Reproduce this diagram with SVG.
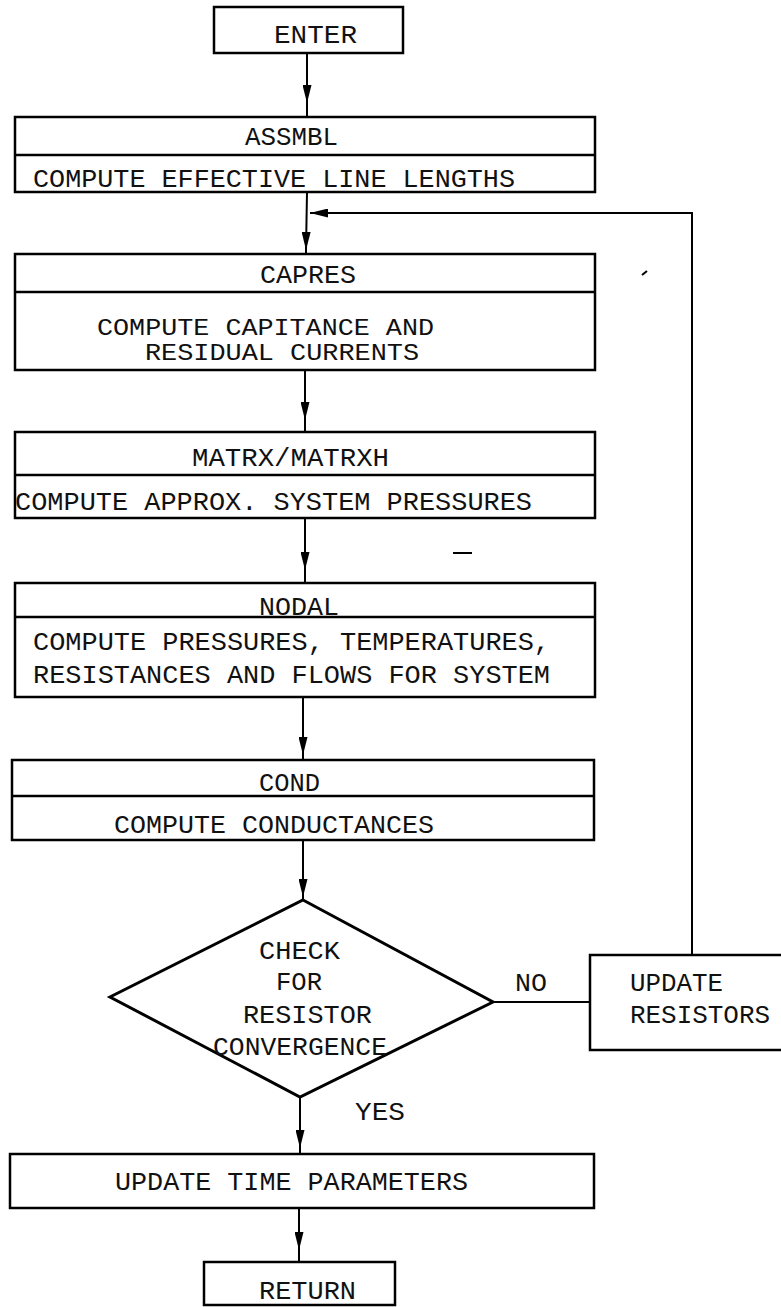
<svg xmlns="http://www.w3.org/2000/svg" width="781" height="1307" viewBox="0 0 781 1307">
<style>
.box{fill:none;stroke:#000;stroke-width:2.5}
.div{stroke:#000;stroke-width:2.5}
.t{font-family:"Liberation Mono","Courier New",monospace;font-size:25px;fill:#111}
.s{font-size:23px}
.c{fill:none;stroke:#000;stroke-width:2}
</style>
<defs>
<marker id="ah" markerUnits="userSpaceOnUse" markerWidth="18" markerHeight="9" refX="18" refY="4.5" orient="auto">
<path d="M0,0 L18,4.5 L0,9 z" fill="#000"/>
</marker>
</defs>
<rect width="781" height="1307" fill="#fff"/>
<g id="connectors">
<polyline class="c" points="307,53 307,103 307,117" marker-mid="url(#ah)"/>
<polyline class="c" points="307,192 306,250 306,254" marker-mid="url(#ah)"/>
<polyline class="c" points="692,955 692,213 310,213" marker-end="url(#ah)"/>
<polyline class="c" points="305,370 305,420 305,432" marker-mid="url(#ah)"/>
<polyline class="c" points="305,518 305,570 305,583" marker-mid="url(#ah)"/>
<polyline class="c" points="303,697 303,755 303,760" marker-mid="url(#ah)"/>
<polyline class="c" points="303,840 303,897 303,900" marker-mid="url(#ah)"/>
<polyline class="c" points="300,1097 300,1148 300,1154" marker-mid="url(#ah)"/>
<polyline class="c" points="299,1208 299,1250 299,1262" marker-mid="url(#ah)"/>
<line class="c" x1="493" y1="1002" x2="590" y2="1002"/>
<line x1="453" y1="553" x2="472" y2="553" stroke="#000" stroke-width="2"/>
<path d="M642,275 L647,271" stroke="#000" stroke-width="2"/>
</g>
<g id="enter">
<rect class="box" x="214" y="7" width="189" height="46"/>
<text class="t" x="274" y="43" textLength="83" lengthAdjust="spacingAndGlyphs">ENTER</text>
</g>
<g id="assmbl">
<rect class="box" x="15" y="117" width="580" height="75"/>
<line class="div" x1="15" y1="155" x2="595" y2="155"/>
<text class="t" x="245" y="145" textLength="93" lengthAdjust="spacingAndGlyphs">ASSMBL</text>
<text class="t" x="33" y="187" textLength="482" lengthAdjust="spacingAndGlyphs">COMPUTE EFFECTIVE LINE LENGTHS</text>
</g>
<g id="capres">
<rect class="box" x="15" y="254" width="580" height="116"/>
<line class="div" x1="15" y1="292" x2="595" y2="292"/>
<text class="t" x="260" y="283" textLength="96" lengthAdjust="spacingAndGlyphs">CAPRES</text>
<text class="t s" x="97" y="335" textLength="337" lengthAdjust="spacingAndGlyphs">COMPUTE CAPITANCE AND</text>
<text class="t s" x="145" y="360" textLength="274" lengthAdjust="spacingAndGlyphs">RESIDUAL CURRENTS</text>
</g>
<g id="matrx">
<rect class="box" x="15" y="432" width="580" height="86"/>
<line class="div" x1="15" y1="475" x2="595" y2="475"/>
<text class="t" x="192" y="466" textLength="197" lengthAdjust="spacingAndGlyphs">MATRX/MATRXH</text>
<text class="t" x="15" y="510" textLength="517" lengthAdjust="spacingAndGlyphs">COMPUTE APPROX. SYSTEM PRESSURES</text>
</g>
<g id="nodal">
<rect class="box" x="15" y="583" width="580" height="114"/>
<line class="div" x1="15" y1="617" x2="595" y2="617"/>
<text class="t" x="259" y="615" textLength="80" lengthAdjust="spacingAndGlyphs">NODAL</text>
<text class="t" x="33" y="650" textLength="517" lengthAdjust="spacingAndGlyphs">COMPUTE PRESSURES, TEMPERATURES,</text>
<text class="t" x="33" y="683" textLength="517" lengthAdjust="spacingAndGlyphs">RESISTANCES AND FLOWS FOR SYSTEM</text>
</g>
<g id="cond">
<rect class="box" x="12" y="760" width="582" height="80"/>
<line class="div" x1="12" y1="796" x2="594" y2="796"/>
<text class="t" x="259" y="791" textLength="61" lengthAdjust="spacingAndGlyphs">COND</text>
<text class="t" x="114" y="833" textLength="320" lengthAdjust="spacingAndGlyphs">COMPUTE CONDUCTANCES</text>
</g>
<g id="check">
<polygon points="303,900 493,1002 300,1097 110,997" fill="none" stroke="#000" stroke-width="3"/>
<text class="t" x="259" y="959" textLength="81" lengthAdjust="spacingAndGlyphs">CHECK</text>
<text class="t" x="276" y="990" textLength="46" lengthAdjust="spacingAndGlyphs">FOR</text>
<text class="t" x="243" y="1023" textLength="129" lengthAdjust="spacingAndGlyphs">RESISTOR</text>
<text class="t" x="213" y="1055" textLength="174" lengthAdjust="spacingAndGlyphs">CONVERGENCE</text>
</g>
<g id="labels">
<text class="t" x="515" y="991" textLength="32" lengthAdjust="spacingAndGlyphs">NO</text>
<text class="t" x="355" y="1120" textLength="50" lengthAdjust="spacingAndGlyphs">YES</text>
</g>
<g id="update-resistors">
<rect class="box" x="590" y="955" width="220" height="95"/>
<text class="t" x="630" y="991" textLength="93" lengthAdjust="spacingAndGlyphs">UPDATE</text>
<text class="t" x="630" y="1023" textLength="140" lengthAdjust="spacingAndGlyphs">RESISTORS</text>
</g>
<g id="update-time">
<rect class="box" x="10" y="1154" width="584" height="54"/>
<text class="t" x="115" y="1190" textLength="353" lengthAdjust="spacingAndGlyphs">UPDATE TIME PARAMETERS</text>
</g>
<g id="return">
<rect class="box" x="204" y="1262" width="191" height="43"/>
<text class="t" x="259" y="1299" textLength="97" lengthAdjust="spacingAndGlyphs">RETURN</text>
</g>
</svg>
